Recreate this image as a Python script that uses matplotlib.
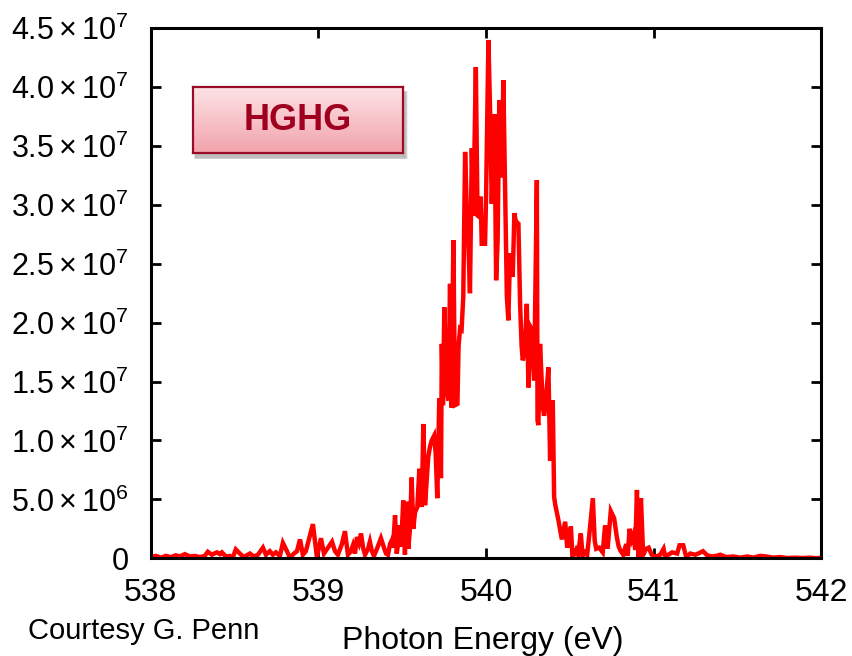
import numpy as np
import matplotlib
matplotlib.use("Agg")
import matplotlib.pyplot as plt
from matplotlib.patches import Rectangle
from matplotlib.colors import LinearSegmentedColormap

# --- data (energy in eV, intensity in units of 1e6) ---
energy_ev = [
    538.000, 538.030, 538.060, 538.090, 538.119, 538.149, 538.173, 538.203,
    538.233, 538.263, 538.293, 538.322, 538.340, 538.364, 538.394, 538.412,
    538.424, 538.448, 538.472, 538.490, 538.507, 538.531, 538.555, 538.573,
    538.591, 538.615, 538.639, 538.669, 538.687, 538.710, 538.728, 538.746,
    538.770, 538.788, 538.812, 538.830, 538.854, 538.872, 538.890, 538.907,
    538.925, 538.943, 538.967, 538.991, 539.015, 539.033, 539.057, 539.081,
    539.099, 539.116, 539.140, 539.158, 539.176, 539.194, 539.206, 539.218,
    539.230, 539.242, 539.254, 539.266, 539.278, 539.296, 539.307, 539.319,
    539.331, 539.349, 539.373, 539.391, 539.403, 539.415, 539.427, 539.437,
    539.445, 539.457, 539.467, 539.475, 539.482, 539.493, 539.506, 539.516,
    539.527, 539.536, 539.546, 539.556, 539.566, 539.576, 539.590, 539.602,
    539.616, 539.626, 539.636, 539.645, 539.655, 539.666, 539.676, 539.690,
    539.699, 539.709, 539.721, 539.731, 539.736, 539.743, 539.751, 539.765,
    539.775, 539.785, 539.794, 539.805, 539.815, 539.829, 539.836, 539.845,
    539.854, 539.864, 539.875, 539.884, 539.894, 539.904, 539.915, 539.924,
    539.939, 539.949, 539.958, 539.968, 539.974, 539.985, 539.994, 540.000,
    540.014, 540.024, 540.034, 540.050, 540.060, 540.069, 540.079, 540.087,
    540.094, 540.103, 540.113, 540.124, 540.133, 540.143, 540.159, 540.169,
    540.176, 540.185, 540.193, 540.203, 540.212, 540.219, 540.230, 540.243,
    540.253, 540.267, 540.275, 540.287, 540.303, 540.307, 540.312, 540.322,
    540.339, 540.346, 540.352, 540.372, 540.382, 540.386, 540.398, 540.406,
    540.412, 540.432, 540.452, 540.472, 540.484, 540.493, 540.506, 540.515,
    540.525, 540.537, 540.549, 540.565, 540.576, 540.591, 540.603, 540.617,
    540.637, 540.648, 540.657, 540.675, 540.696, 540.710, 540.725, 540.744,
    540.764, 540.780, 540.791, 540.800, 540.818, 540.836, 540.845, 540.856,
    540.869, 540.879, 540.890, 540.900, 540.910, 540.924, 540.937, 540.955,
    540.970, 540.988, 541.009, 541.039, 541.059, 541.069, 541.087, 541.110,
    541.140, 541.154, 541.176, 541.194, 541.218, 541.248, 541.266, 541.294,
    541.319, 541.349, 541.373, 541.397, 541.433, 541.475, 541.516, 541.558,
    541.594, 541.636, 541.672, 541.713, 541.755, 541.797, 541.845, 541.887,
    541.934, 541.970, 542.000,
]
intensity_1e6 = [
    0.1, 0.2, 0.05, 0.2, 0.1, 0.25, 0.15, 0.35,
    0.15, 0.2, 0.1, 0.2, 0.55, 0.3, 0.5, 0.35,
    0.5, 0.15, 0.2, 0.1, 0.75, 0.4, 0.1, 0.25,
    0.4, 0.15, 0.3, 0.9, 0.3, 0.6, 0.3, 0.5,
    0.2, 1.3, 0.6, 0.05, 0.4, 0.6, 1.6, 0.3,
    0.6, 1.6, 2.9, 0.1, 1.7, 0.4, 0.9, 1.4,
    0.6, 0.3, 1.2, 2.3, 0.3, 0.6, 1.1, 0.4,
    1.8, 1.3, 2.1, 0.9, 0.3, 0.8, 1.4, 0.6,
    0.2, 0.8, 1.7, 0.9, 0.4, 0.3, 1.2, 1.5,
    0.9, 3.65, 0.4, 1.2, 2.8, 1.0, 4.9, 0.3,
    4.8, 0.8, 2.5, 6.85, 2.5, 3.9, 4.35, 7.6,
    4.35, 11.4, 4.5, 6.5, 8.6, 9.5, 10.0, 10.4,
    9.0, 5.1, 13.6, 6.8, 18.2, 13.0, 21.3, 14.3,
    13.4, 23.3, 12.8, 27.0, 13.0, 13.1, 18.0, 19.5,
    19.4, 22.2, 34.5, 30.0, 26.9, 22.5, 34.8, 29.1,
    41.7, 29.1, 29.0, 30.7, 26.7, 26.7, 26.7, 30.7,
    44.0, 38.0, 30.1, 37.7, 23.6, 27.0, 38.9, 32.5,
    32.5, 40.6, 32.0, 22.2, 20.2, 25.9, 23.9, 29.3,
    28.7, 28.5, 28.4, 21.6, 18.0, 16.8, 17.5, 21.6,
    14.5, 19.6, 19.4, 15.1, 32.1, 11.7, 11.3, 18.2,
    12.8, 12.1, 12.6, 16.2, 8.3, 11.7, 13.4, 5.2,
    4.6, 3.2, 1.6, 3.1, 0.9, 1.5, 2.7, 0.2,
    0.3, 0.7, 0.3, 2.1, 0.2, 0.5, 0.3, 2.15,
    5.1, 1.5, 0.8, 0.9, 0.5, 2.8, 0.8, 4.0,
    3.4, 1.8, 1.0, 0.7, 0.3, 1.2, 0.2, 2.5,
    1.6, 2.0, 0.7, 5.8, 0.1, 5.1, 0.3, 0.8,
    0.9, 0.3, 0.1, 0.3, 0.8, 0.1, 0.3, 0.5,
    0.4, 1.1, 1.1, 0.1, 0.4, 0.3, 0.4, 0.6,
    0.25, 0.15, 0.2, 0.3, 0.1, 0.15, 0.05, 0.15,
    0.05, 0.2, 0.15, 0.05, 0.1, 0.02, 0.05, 0.02,
    0.05, 0.0, 0.05,
]

x_ticks = [538, 539, 540, 541, 542]
y_ticks = [0, 5e6, 1e7, 1.5e7, 2e7, 2.5e7, 3e7, 3.5e7, 4e7, 4.5e7]
y_tick_labels = ["0", r"$5.0\times10^{6}$", r"$1.0\times10^{7}$",
                 r"$1.5\times10^{7}$", r"$2.0\times10^{7}$", r"$2.5\times10^{7}$",
                 r"$3.0\times10^{7}$", r"$3.5\times10^{7}$", r"$4.0\times10^{7}$",
                 r"$4.5\times10^{7}$"]

plt.rcParams['font.family'] = ['Liberation Sans', 'DejaVu Sans']
plt.rcParams['mathtext.fontset'] = 'custom'
plt.rcParams['mathtext.rm'] = 'Liberation Sans'
plt.rcParams['mathtext.it'] = 'Liberation Sans:italic'
plt.rcParams['mathtext.bf'] = 'Liberation Sans:bold'

fig = plt.figure(figsize=(8.52, 6.56), dpi=100)
ax = fig.add_axes([0.177, 0.149, 0.787, 0.808])

ax.plot(energy_ev, np.array(intensity_1e6) * 1e6, color='#ff0000', lw=3.2,
        solid_joinstyle='miter')

ax.set_xlim(538, 542)
ax.set_ylim(0, 4.5e7)
ax.set_xticks(x_ticks)
ax.set_xticklabels([str(t) for t in x_ticks])
ax.set_yticks(y_ticks)
ax.set_yticklabels(y_tick_labels)
ax.tick_params(direction='in', length=7, width=2, top=True, right=True,
               labelsize=22)
ax.tick_params(axis='y', pad=16)
ax.tick_params(axis='x', pad=14, labelsize=23)
for s in ax.spines.values():
    s.set_linewidth(2.2)

fig.text(0.567, 0.01, 'Photon Energy (eV)', ha='center', va='baseline',
         fontsize=23)
fig.text(0.033, 0.026, 'Courtesy G. Penn', ha='left', va='baseline',
         fontsize=21)

# --- HGHG label box with gradient fill and soft shadow ---
bx, by, bw, bh = 0.2265, 0.767, 0.2465, 0.1
for k, a in enumerate([0.08, 0.10, 0.12, 0.14]):
    off = (4 - k) / 852
    fig.patches.append(Rectangle((bx + 3 / 852 - off / 2, by - 5 / 656 - off / 2),
                                 bw + off, bh + off, transform=fig.transFigure,
                                 facecolor='#555555', alpha=a, edgecolor='none',
                                 zorder=2))
box = fig.add_axes([bx, by, bw, bh], zorder=3)
grad = np.linspace(0, 1, 100).reshape(-1, 1)
cmap = LinearSegmentedColormap.from_list('pinkgrad', ['#fde3e6', '#f2a3ab'])
box.imshow(grad, aspect='auto', cmap=cmap, extent=[0, 1, 0, 1])
box.set_xticks([])
box.set_yticks([])
for s in box.spines.values():
    s.set_color('#9c0a2a')
    s.set_linewidth(1.6)
box.text(0.5, 0.5, 'HGHG', ha='center', va='center', fontsize=26,
         fontweight='bold', color='#a0001f', transform=box.transAxes)

fig.savefig('out.png', dpi=100)
